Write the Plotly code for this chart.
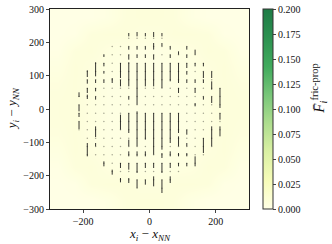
import plotly.graph_objects as go

# ---- background density (cell centres) ----
hm_x = [-275, -225, -175, -125, -75, -25, 25, 75, 125, 175, 225, 275]
hm_y = [-275, -225, -175, -125, -75, -25, 25, 75, 125, 175, 225, 275]
hm_z = [
    [0, 0, 0, 0.002, 0.006, 0.007, 0.007, 0.006, 0.002, 0, 0, 0],
    [0, 0.001, 0.006, 0.007, 0.007, 0.005, 0.005, 0.007, 0.007, 0.006, 0.001, 0],
    [0.001, 0.006, 0.007, 0.004, 0.003, 0.002, 0.002, 0.003, 0.004, 0.007, 0.006, 0.001],
    [0.003, 0.007, 0.005, 0.003, 0.002, 0.002, 0.002, 0.002, 0.003, 0.005, 0.007, 0.003],
    [0.005, 0.007, 0.004, 0.002, 0.002, 0.002, 0.002, 0.002, 0.002, 0.004, 0.007, 0.005],
    [0.006, 0.007, 0.004, 0.002, 0.002, 0.002, 0.002, 0.002, 0.002, 0.004, 0.007, 0.006],
    [0.006, 0.007, 0.004, 0.002, 0.002, 0.002, 0.002, 0.002, 0.002, 0.004, 0.007, 0.006],
    [0.005, 0.007, 0.004, 0.002, 0.002, 0.002, 0.002, 0.002, 0.002, 0.004, 0.007, 0.005],
    [0.003, 0.007, 0.005, 0.003, 0.002, 0.002, 0.002, 0.002, 0.003, 0.005, 0.007, 0.003],
    [0.001, 0.006, 0.007, 0.004, 0.003, 0.002, 0.002, 0.003, 0.004, 0.007, 0.006, 0.001],
    [0, 0.001, 0.006, 0.007, 0.007, 0.005, 0.005, 0.007, 0.007, 0.006, 0.001, 0],
    [0, 0, 0, 0.002, 0.006, 0.007, 0.007, 0.006, 0.002, 0, 0, 0],
]

# ---- quiver grid columns: x, lowest and highest grid row ----
col_x = [-212.5, -187.5, -162.5, -137.5, -112.5, -87.5, -62.5, -37.5, -12.5,
         12.5, 37.5, 62.5, 87.5, 112.5, 137.5, 162.5, 187.5, 212.5]
col_ymin = [-62.5, -137.5, -137.5, -162.5, -187.5, -212.5, -212.5, -237.5, -212.5,
            -212.5, -237.5, -212.5, -187.5, -162.5, -162.5, -137.5, -112.5, -62.5]
col_ymax = [37.5, 112.5, 137.5, 162.5, 187.5, 187.5, 212.5, 212.5, 212.5,
            212.5, 212.5, 187.5, 162.5, 187.5, 162.5, 137.5, 112.5, 62.5]
grid_step = 25

# ---- arrow segments: column x -> (start y, end y) ----
segments = {
    -212.5: [(50, 36), (13, -7), (-12, -24), (-37, -60)],
    -187.5: [(116, 96), (88, 76), (63, 48), (43, 30), (-102, -142)],
    -162.5: [(140, 98), (88, 78), (63, 53), (38, 28), (-52, -84), (-102, -112)],
    -137.5: [(163, 156), (138, 128), (113, 106), (88, 78), (-157, -172)],
    -112.5: [(93, 78), (-182, -197)],
    -87.5: [(138, 93), (88, 68), (-17, -62), (-162, -177), (-207, -220)],
    -62.5: [(228, 218), (188, 178), (163, 148), (140, 68), (38, 28), (-12, -72),
            (-92, -112), (-127, -142), (-162, -182), (-207, -222)],
    -37.5: [(231, 218), (188, 178), (163, 153), (138, 13), (-7, -112), (-127, -142),
            (-162, -192), (-212, -237)],
    -12.5: [(228, 218), (188, 178), (163, 153), (138, 68), (-12, -92), (-127, -142),
            (-162, -177), (-212, -227)],
    12.5: [(231, 216), (198, 178), (163, 148), (138, 68), (-12, -137), (-162, -177),
           (-202, -232)],
    37.5: [(228, 218), (198, 188), (138, 63), (-12, -122), (-132, -147), (-162, -192),
           (-212, -252)],
    62.5: [(188, 178), (163, 153), (138, 83), (-12, -102), (-127, -142), (-162, -177),
           (-202, -222)],
    87.5: [(173, 163), (138, 78), (63, 48), (-12, -72), (-82, -112), (-132, -142),
           (-162, -172)],
    112.5: [(188, 178), (163, 153), (138, 123), (113, 103), (88, 78), (-62, -77),
            (-102, -112), (-132, -142), (-162, -172)],
    137.5: [(178, 163), (138, 128), (88, 78), (63, 48), (18, 8), (-142, -172)],
    162.5: [(138, 128), (113, 93), (88, 78), (38, 28), (-87, -132)],
    187.5: [(113, 93), (83, 58), (38, 18), (-52, -112)],
    212.5: [(63, 3), (-12, -32), (-52, -82)],
}

cbar_ticks = [0.0, 0.025, 0.05, 0.075, 0.1, 0.125, 0.15, 0.175, 0.2]
axis_ticks_x = [-200, 0, 200]
axis_ticks_y = [-300, -200, -100, 0, 100, 200, 300]

ylgn = [[0.0, '#ffffe5'], [0.14, '#f7fcb9'], [0.29, '#d9f0a3'], [0.43, '#addd8e'],
        [0.57, '#78c679'], [0.71, '#41ab5d'], [0.86, '#2c9150'], [1.0, '#1e7b45']]

FONT = 'Liberation Serif'

fig = go.Figure()
fig.add_trace(go.Heatmap(
    x=hm_x, y=hm_y, z=hm_z, zmin=0, zmax=0.2, colorscale=ylgn, zsmooth='best',
    hoverinfo='skip',
    colorbar=dict(
        x=1.07, xanchor='left', xpad=0, y=0.5, yanchor='middle', ypad=0,
        len=1.0, lenmode='fraction',
        thickness=10, outlinewidth=1, outlinecolor='#333',
        tickvals=cbar_ticks, tickformat='.3f', ticks='outside', ticklen=3,
        tickfont=dict(family=FONT, size=10, color='#111'),
    ),
))

# grid dots (tiny arrows)
dot_x, dot_y = [], []
for cx, lo, hi in zip(col_x, col_ymin, col_ymax):
    yv = lo
    while yv <= hi + 1e-9:
        dot_x.append(cx)
        dot_y.append(yv)
        yv += grid_step
fig.add_trace(go.Scatter(x=dot_x, y=dot_y, mode='markers',
                         marker=dict(size=1.5, color='rgba(0,0,0,0.35)', line=dict(width=0)),
                         hoverinfo='skip', showlegend=False))

# arrow shafts
lx, ly = [], []
for cx, segs in segments.items():
    for a, b in segs:
        lx += [cx, cx, None]
        ly += [a, b, None]
fig.add_trace(go.Scatter(x=lx, y=ly, mode='lines',
                         line=dict(color='rgba(20,20,20,0.85)', width=1),
                         hoverinfo='skip', showlegend=False))

fig.update_layout(
    width=332, height=244,
    margin=dict(l=50, r=83, t=9, b=35, autoexpand=False),
    paper_bgcolor='white', plot_bgcolor='#ffffe5',
    font=dict(family=FONT, size=10, color='#111'),
    showlegend=False,
    annotations=[
        dict(text='<i>x<sub>i</sub></i> − <i>x<sub>NN</sub></i>', xref='paper', yref='paper',
             x=0.5, y=-0.125, xanchor='center', yanchor='middle', showarrow=False,
             font=dict(family=FONT, size=13)),
        dict(text='<i>y<sub>i</sub></i> − <i>y<sub>NN</sub></i>', xref='paper', yref='paper',
             x=-0.19, y=0.5, xanchor='center', yanchor='middle', showarrow=False,
             textangle=-90, font=dict(family=FONT, size=13)),
        dict(text='<i>F̄<sub>i</sub></i><sup>fric-prop</sup>', xref='paper', yref='paper',
             x=1.35, y=0.6, xanchor='center', yanchor='middle', showarrow=False,
             textangle=-90, font=dict(family=FONT, size=15)),
    ],
)
fig.update_xaxes(range=[-300, 300], tickvals=axis_ticks_x, ticks='outside', ticklen=3,
                 showgrid=False, zeroline=False, showline=True, linecolor='#222', mirror=True,
                 tickfont=dict(family=FONT, size=10))
fig.update_yaxes(range=[-300, 300], tickvals=axis_ticks_y, ticks='outside', ticklen=3,
                 showgrid=False, zeroline=False, showline=True, linecolor='#222', mirror=True,
                 tickfont=dict(family=FONT, size=10))

fig.write_html('out.html', config={'displayModeBar': False},
               post_script="document.body.style.margin='0';document.body.style.padding='0';")
